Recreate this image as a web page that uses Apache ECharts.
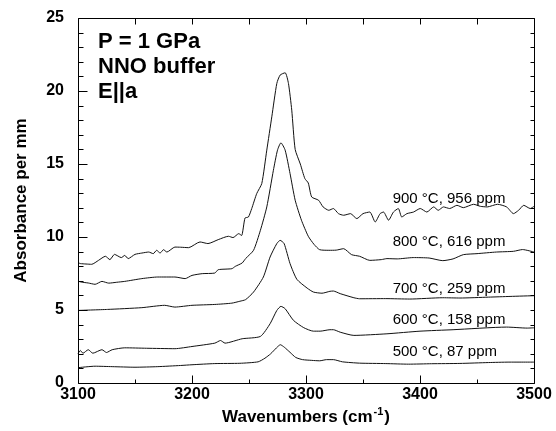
<!DOCTYPE html>
<html>
<head>
<meta charset="utf-8">
<script src="https://cdn.jsdelivr.net/npm/echarts@6/dist/echarts.min.js"></script>
<style>
html,body{margin:0;padding:0;background:#fff;}
#c{width:556px;height:431px;}
</style>
</head>
<body>
<div id="c"></div>
<script>
// ---- data ----
const wn500 = [3100,3115,3130,3150,3170,3190,3200,3220,3242,3258,3264,3269,3274,3277.5,3281,3286,3291,3297,3305,3312,3318,3324,3332,3347,3370,3390,3410,3435,3460,3478,3500];
const a500  = [1.05,1.15,1.12,1.08,1.12,1.20,1.25,1.33,1.35,1.45,1.70,2.00,2.40,2.62,2.45,2.10,1.75,1.60,1.55,1.52,1.60,1.60,1.45,1.36,1.33,1.29,1.32,1.34,1.40,1.43,1.43];

const wn600 = [3100,3102,3104.4,3109,3113,3121,3125,3130,3141,3160,3185,3200,3220,3225,3229,3244,3260,3268.5,3274.4,3278,3281.7,3289,3298,3306.5,3312.4,3321,3324,3330,3342,3371,3400,3429,3476,3494,3500];
const a600  = [2.00,2.23,2.04,2.28,2.04,2.28,2.09,2.28,2.41,2.38,2.35,2.50,2.73,2.91,2.73,3.03,3.19,4.06,4.97,5.25,5.09,4.29,3.79,3.55,3.55,3.65,3.65,3.48,3.26,3.37,3.55,3.65,3.83,3.76,3.78];

const wn700 = [3100,3126,3156,3176,3185,3200,3220,3235,3242,3247,3254,3262.6,3268.5,3274.4,3277.3,3280.8,3286,3292,3301,3306.5,3314,3321,3324,3330,3342,3347,3370,3391,3420,3435,3460,3479,3500];
const a700  = [4.97,5.04,5.16,5.32,5.20,5.32,5.38,5.47,5.60,5.71,6.23,7.26,8.63,9.55,9.77,9.55,8.18,7.10,6.50,6.23,6.15,6.28,6.30,6.12,5.84,5.77,5.78,5.75,5.84,5.82,5.88,5.93,5.98];

const wn800 = [3100,3103,3109,3115,3121,3127,3134,3141,3156,3170,3185,3194,3200,3209,3220,3223,3235,3238,3244,3247,3254,3260,3265.6,3271.4,3275,3278,3281.7,3286,3290.5,3296,3302,3307,3312,3320,3326.5,3333,3340,3347,3356,3366,3371,3380,3394,3408,3420,3429,3438,3450,3467,3482,3490,3500];
const a800  = [6.98,6.91,6.85,6.76,6.96,6.84,6.90,6.96,7.15,7.26,7.26,7.15,7.37,7.49,7.53,7.76,7.83,7.99,8.22,8.52,9.09,10.46,12.06,14.57,15.95,16.45,15.95,14.35,12.52,11.15,10.05,9.50,9.13,9.09,9.10,9.20,8.79,8.68,8.40,8.45,8.52,8.50,8.59,8.56,8.38,8.50,8.79,8.86,8.97,9.02,9.14,8.97];

const wn900 = [3100,3102,3107,3112,3118,3124,3128,3132,3138,3141,3144,3150,3156,3162,3166,3169,3172,3175,3178,3185,3190,3197,3207,3214,3223,3232,3236,3241,3243.5,3246.5,3249.5,3252.4,3256.8,3261.2,3265.6,3270,3274.4,3277.3,3281.7,3284.6,3287.5,3290.5,3295,3299,3302,3305,3311,3315,3320,3324,3328.5,3333,3339,3344.6,3350,3356,3360.7,3365,3368,3372.4,3376.7,3381,3384,3388.5,3394.3,3400.2,3406,3412,3416,3420.6,3426,3432.4,3438,3447,3453,3459,3468,3476,3482,3486.5,3491,3496.7,3500];
const a900  = [8.25,8.18,8.15,8.13,8.40,8.68,8.45,8.81,8.59,8.74,8.52,8.81,8.90,8.97,8.86,9.09,8.90,9.13,8.97,9.31,9.30,9.27,9.66,9.55,9.82,10.05,9.96,10.23,10.10,11.30,11.37,11.95,12.98,13.66,15.95,18.23,20.52,21.09,21.25,20.52,18.69,16.00,15.00,14.00,13.70,12.74,12.52,12.06,11.83,11.95,11.60,11.49,11.60,11.26,11.60,11.71,11.03,11.60,11.71,11.15,11.71,11.95,11.37,11.60,11.71,11.95,11.71,12.06,11.83,12.06,11.95,12.17,12.01,12.24,12.10,12.06,12.24,12.06,11.60,11.83,12.17,11.95,12.10];

const seriesNames = ['500 °C, 87 ppm','600 °C, 158 ppm','700 °C, 259 ppm','800 °C, 616 ppm','900 °C, 956 ppm'];
const xTicks = [3100,3200,3300,3400,3500];
const yTicks = [0,5,10,15,20,25];
const annotation = ['P = 1 GPa','NNO buffer','E||a'];
const labelY = [2.1, 4.35, 6.45, 9.65, 12.6];

// ---- build ----
const FONT = 'Arial, "Liberation Sans", sans-serif';
const zip = (xs, ys) => xs.map((x, i) => [x, ys[i]]);
const allWn = [wn500, wn600, wn700, wn800, wn900];
const allA = [a500, a600, a700, a800, a900];
const X0 = xTicks[0], X1 = xTicks[xTicks.length - 1];
const Y0 = yTicks[0], Y1 = yTicks[yTicks.length - 1];

const chart = echarts.init(document.getElementById('c'), null, {renderer: 'canvas'});

chart.setOption({
  animation: false,
  backgroundColor: '#fff',
  grid: {left: 78, right: 22, top: 18, bottom: 48, outerBoundsMode: 'none'},
  xAxis: {
    type: 'value', min: X0, max: X1, interval: 100,
    axisLine: {show: false}, axisTick: {show: false}, splitLine: {show: false},
    axisLabel: {show: true, margin: 4, color: '#000', fontFamily: FONT, fontWeight: 'bold', fontSize: 16,
      formatter: v => String(v)}
  },
  yAxis: {
    type: 'value', min: Y0, max: Y1, interval: 5,
    axisLine: {show: false}, axisTick: {show: false}, splitLine: {show: false},
    axisLabel: {show: true, margin: 14, color: '#000', fontFamily: FONT, fontWeight: 'bold', fontSize: 16,
      formatter: v => String(v)},
    name: 'Absorbance per mm', nameLocation: 'middle', nameGap: 48, nameRotate: 90,
    nameTextStyle: {fontFamily: FONT, fontWeight: 'bold', fontSize: 17, color: '#000'}
  },
  series: allA.map((a, i) => ({
    name: seriesNames[i], type: 'line', data: zip(allWn[i], a), showSymbol: false,
    smooth: 0.2, lineStyle: {color: '#111', width: 1}
  }))
});

// ---- frame and inward ticks, positioned through the chart's own scales ----
const px = (x, y) => chart.convertToPixel({xAxisIndex: 0, yAxisIndex: 0}, [x, y]);
const snap = v => Math.round(v) + 0.5;
const g = [];
const lineEl = (x1, y1, x2, y2) => g.push({type: 'line', silent: true, z: 100,
  shape: {x1: x1, y1: y1, x2: x2, y2: y2}, style: {stroke: '#000', lineWidth: 1}});

const pLT = px(X0, Y1), pRB = px(X1, Y0);
const L = snap(pLT[0]), T = snap(pLT[1]), R = snap(pRB[0]), B = snap(pRB[1]);
lineEl(L, T, R, T); lineEl(R, T, R, B); lineEl(R, B, L, B); lineEl(L, B, L, T);

// x ticks every 50: bottom (major 8 / minor 4), top (6)
for (let v = X0; v <= X1; v += 50) {
  const x = snap(px(v, Y0)[0]);
  const major = xTicks.indexOf(v) >= 0;
  lineEl(x, B, x, B - (major ? 8 : 4));
  lineEl(x, T, x, T + 6);
}
// y ticks every 1: left (major 9 / minor 5), right (4)
for (let v = Y0; v <= Y1; v += 1) {
  const y = snap(px(X0, v)[1]);
  const major = yTicks.indexOf(v) >= 0;
  lineEl(L, y, L + (major ? 9 : 5), y);
  lineEl(R, y, R - 4, y);
}

// annotation text block (top-left)
annotation.forEach((t, i) => g.push({
  type: 'text', left: 98, top: 31 + i * 25, silent: true,
  style: {text: t, fill: '#000', font: 'bold 22px ' + FONT}
}));
// series labels placed relative to data coordinates
seriesNames.forEach((n, i) => {
  const p = px(3376, labelY[i]);
  g.push({type: 'text', x: p[0], y: p[1], silent: true,
    style: {text: n, fill: '#000', font: '15px ' + FONT, textAlign: 'left', textVerticalAlign: 'middle'}});
});
// x-axis title with superscript
const mid = px((X0 + X1) / 2, Y0);
g.push({type: 'text', x: mid[0], y: 416, silent: true,
  style: {
    text: '{t|Wavenumbers (cm}{s|-1}{t|)}', textAlign: 'center', textVerticalAlign: 'middle',
    rich: {
      t: {fontFamily: FONT, fontWeight: 'bold', fontSize: 17, fill: '#000', lineHeight: 20, verticalAlign: 'bottom'},
      s: {fontFamily: FONT, fontWeight: 'bold', fontSize: 11, fill: '#000', lineHeight: 20, verticalAlign: 'top', padding: [0,1,0,1]}
    }
  }});
chart.setOption({graphic: g});
</script>
</body>
</html>
